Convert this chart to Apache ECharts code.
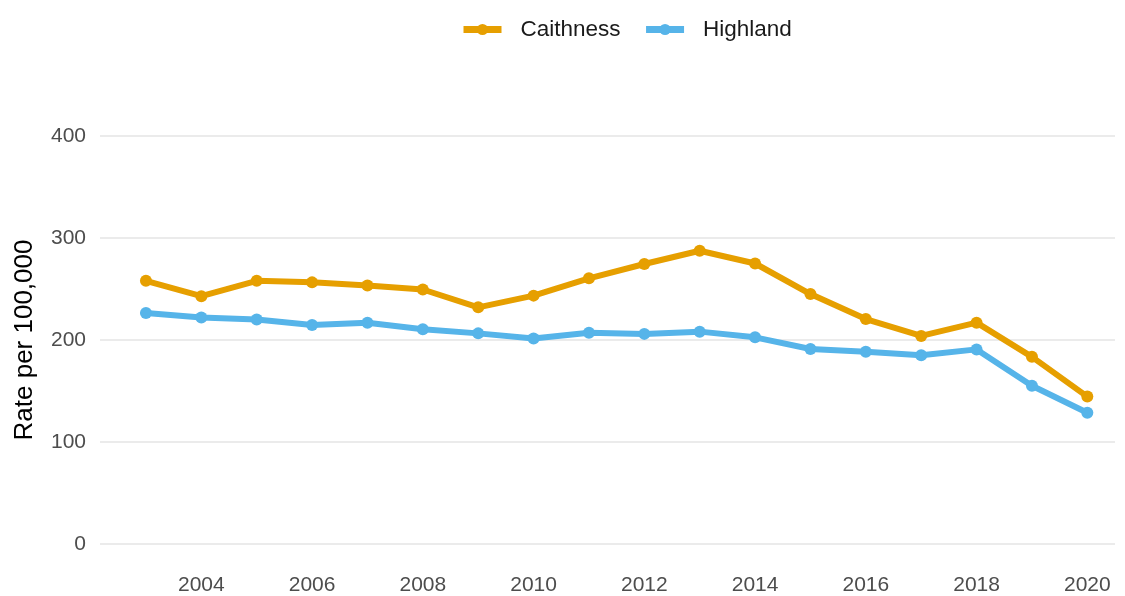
<!DOCTYPE html>
<html>
<head>
<meta charset="utf-8">
<script src="https://cdn.jsdelivr.net/npm/echarts@6/dist/echarts.min.js"></script>
<style>
  html, body { margin: 0; padding: 0; background: #fff; }
  #chart { width: 1125px; height: 596px; }
</style>
</head>
<body>
<div id="chart"></div>
<script>
// years on the x axis
const years = [2003, 2004, 2005, 2006, 2007, 2008, 2009, 2010, 2011, 2012,
               2013, 2014, 2015, 2016, 2017, 2018, 2019, 2020];
// rate per 100,000
const caithness = [258, 243, 258, 256.5, 253.5, 249.5, 232, 243.5, 260.5, 274.5,
                   287.5, 275, 245, 220.5, 204, 217, 183.5, 144.5];
const highland = [226.5, 222, 220, 214.7, 217, 210.5, 206.5, 201.5, 207.2, 206,
                  208.2, 202.6, 191.2, 188.5, 185, 190.8, 155.2, 128.7];
const xLabels = [2004, 2006, 2008, 2010, 2012, 2014, 2016, 2018, 2020];

const chart = echarts.init(document.getElementById("chart"));

const toPairs = vals => years.map((y, i) => [y, vals[i]]);

const option = {
  backgroundColor: "#fff",
  textStyle: { fontFamily: "Liberation Sans, Arial, sans-serif" },
  legend: {
    top: 13,
    left: 455,
    itemWidth: 38,
    itemHeight: 14,
    itemGap: 22,
    lineStyle: { width: 7 },
    textStyle: { fontSize: 22.5, color: "#1a1a1a", padding: [0, 0, 0, 14] },
    data: ["Caithness", "Highland"]
  },
  grid: { left: 100, right: 10, top: 136, bottom: 52, outerBoundsMode: "none" },
  xAxis: {
    type: "value",
    min: 2002.17,
    max: 2020.5,
    axisLine: { show: false },
    axisTick: { show: false },
    splitLine: { show: false },
    axisLabel: {
      customValues: xLabels,
      fontSize: 21,
      color: "#4d4d4d",
      margin: 31,
      formatter: v => String(v)
    }
  },
  yAxis: {
    type: "value",
    min: 0,
    max: 400,
    interval: 100,
    name: "Rate per 100,000",
    nameLocation: "middle",
    nameRotate: 90,
    nameGap: 62,
    nameTextStyle: { fontSize: 26, color: "#000" },
    axisLine: { show: false },
    axisTick: { show: false },
    axisLabel: { fontSize: 21, color: "#4d4d4d", margin: 14 },
    splitLine: { lineStyle: { color: "#ebebeb", width: 2 } }
  },
  series: [
    {
      name: "Caithness",
      type: "line",
      data: toPairs(caithness),
      symbol: "circle",
      symbolSize: 12,
      color: "#E69F00",
      lineStyle: { width: 6 },
      itemStyle: { color: "#E69F00" },
      animation: false
    },
    {
      name: "Highland",
      type: "line",
      data: toPairs(highland),
      symbol: "circle",
      symbolSize: 12,
      color: "#56B4E9",
      lineStyle: { width: 6 },
      itemStyle: { color: "#56B4E9" },
      animation: false
    }
  ]
};

chart.setOption(option);
</script>
</body>
</html>
